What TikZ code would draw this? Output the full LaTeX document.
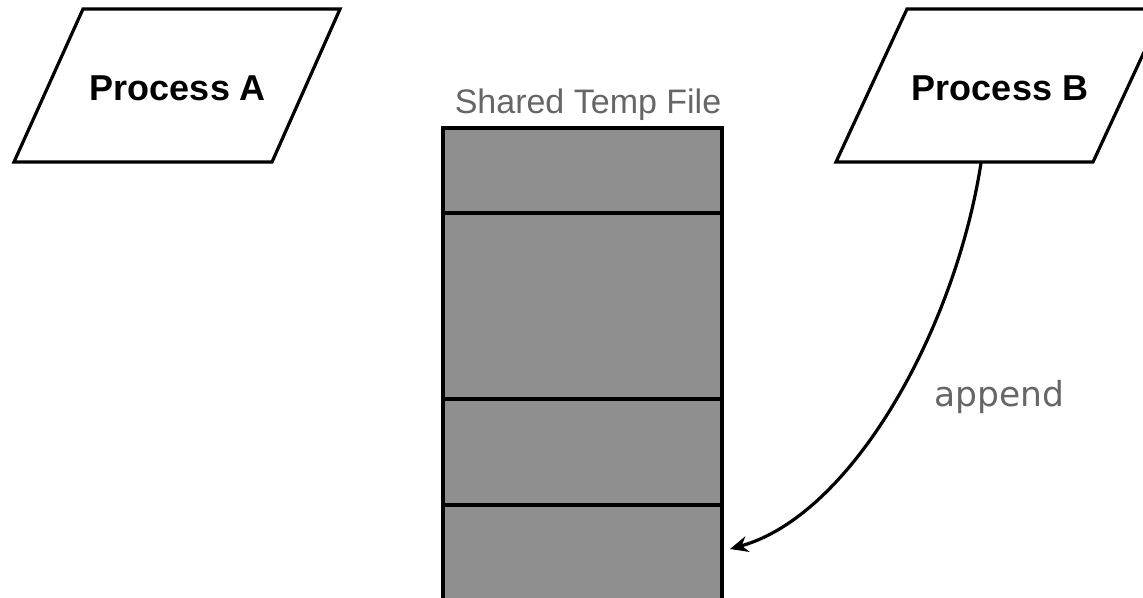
\documentclass[tikz,border=0pt]{standalone}
\usepackage{fontspec}
\setmainfont{Liberation Sans}
\newfontfamily\labelfont{DejaVu Sans}
\usetikzlibrary{arrows.meta}
\definecolor{cellgray}{HTML}{8F8F8F}
\definecolor{textgray}{HTML}{666666}
\tikzset{
  procshape/.style={draw=black, line width=3.2pt, line join=miter, fill=white},
  proctext/.style={inner sep=0pt, font=\fontsize{36}{40}\selectfont\bfseries},
  filecell/.style={draw=black, line width=3.2pt, fill=cellgray},
  divider/.style={draw=black, line width=3.2pt},
  caption/.style={inner sep=0pt, text=textgray, font=\fontsize{34}{38}\selectfont},
  edgelabel/.style={inner sep=0pt, text=textgray, font=\labelfont\fontsize{34.5}{38}\selectfont},
  flow/.style={draw=black, line width=3.2pt, -{Stealth[length=18pt,width=16pt]}}
}
\begin{document}
\begin{tikzpicture}[x=1pt,y=-1pt]
  \useasboundingbox (0,0) rectangle (1143,597);
  \clip (0,0) rectangle (1143,597);

  % process A
  \draw[procshape] (83,9) -- (340,9) -- (272,162) -- (14,162) -- cycle;
  \node[proctext] (pa) at (178,88) {Process A};

  % process B
  \draw[procshape] (907,9) -- (1164,9) -- (1093,162) -- (836,162) -- cycle;
  \node[proctext] (pb) at (1000,88) {Process B};
  \coordinate (bfoot) at (981,163);

  % shared temp file, split into chunks
  \draw[filecell] (443,128) rectangle (722,620);
  \draw[divider] (443,213) -- (722,213);
  \draw[divider] (443,399) -- (722,399);
  \draw[divider] (443,505) -- (722,505);
  \node[caption] (title) at (588,105) {Shared Temp File};
  \coordinate (slot) at (730,549);

  % append arrow
  \draw[flow] (bfoot) .. controls (955,330) and (852,515) .. (slot);
  \node[edgelabel] (app) at (999,397) {append};
\end{tikzpicture}
\end{document}
